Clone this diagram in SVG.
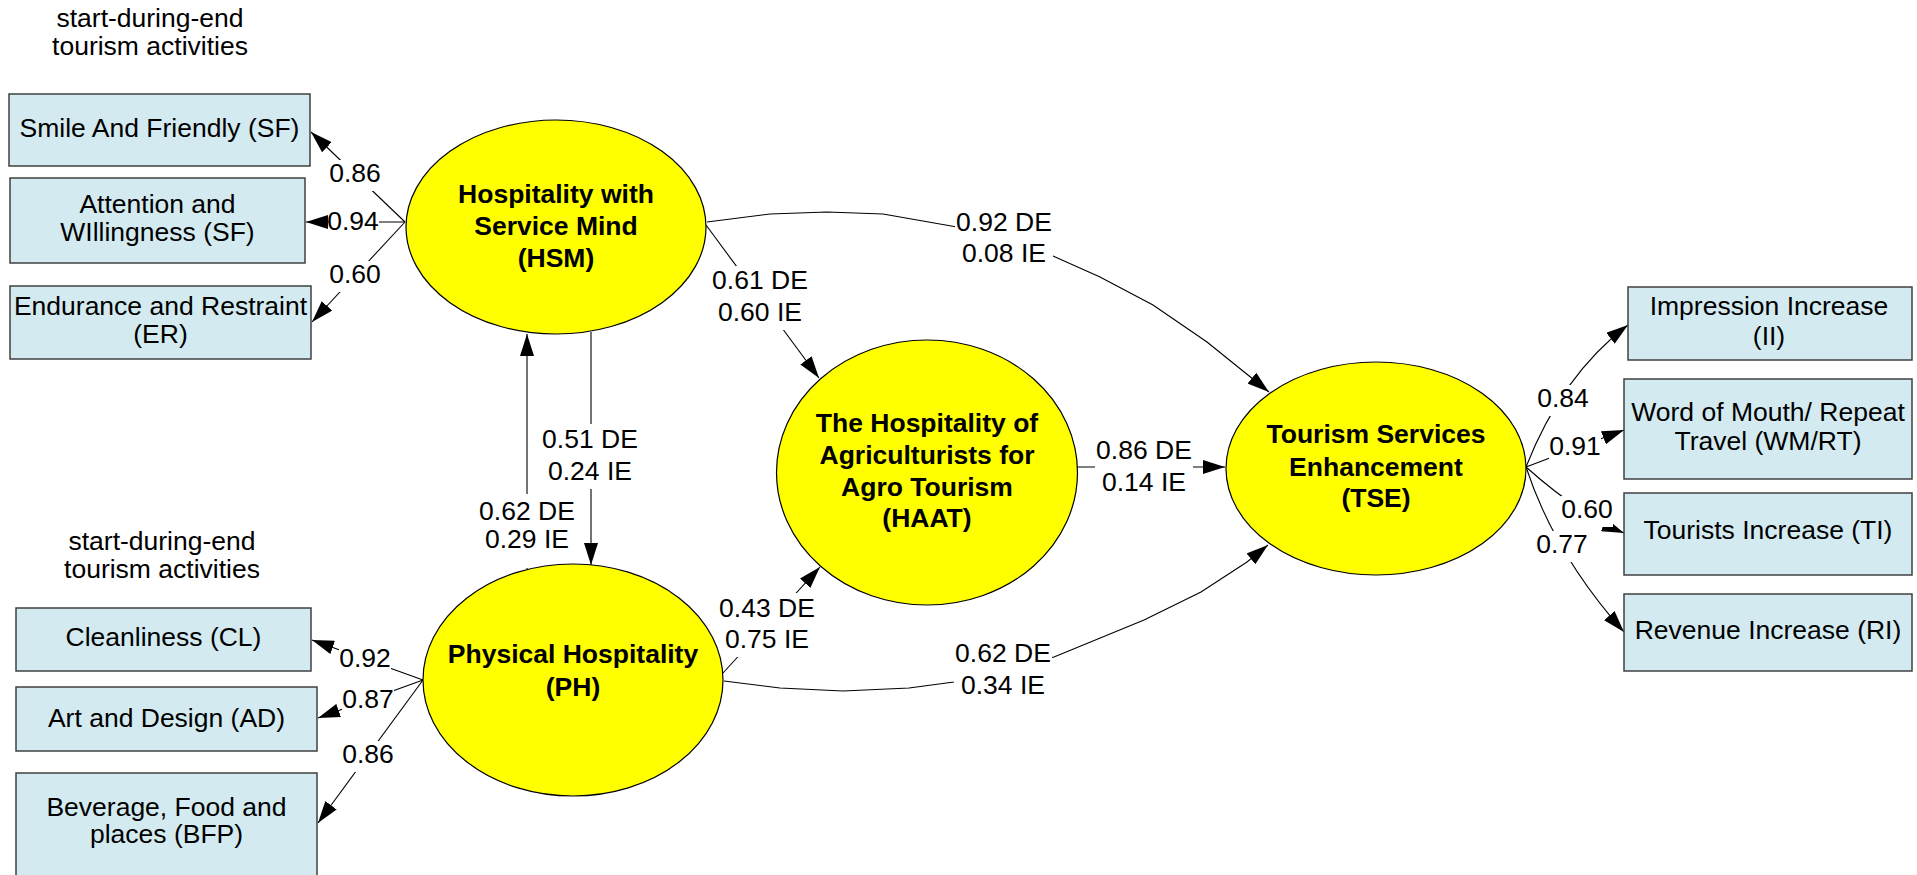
<svg xmlns="http://www.w3.org/2000/svg" width="1917" height="875" viewBox="0 0 1917 875">
<style>
text{font-family:"Liberation Sans",Arial,sans-serif;font-size:26.5px;fill:#000;text-anchor:middle}
.b{font-weight:bold}
.box{fill:#d3ebf0;stroke:#404040;stroke-width:1.5}
.lat{fill:#ffff00;stroke:#000;stroke-width:1.2}
.c{fill:none;stroke:#000;stroke-width:1.1;marker-end:url(#ah)}
.bg{fill:#fff}
</style>
<defs>
<marker id="ah" markerUnits="userSpaceOnUse" viewBox="0 0 22 14" refX="22" refY="7" markerWidth="22" markerHeight="14" orient="auto">
<path d="M0,0 L22,7 L0,14 z" fill="#000"/>
</marker>
</defs>
<rect width="1917" height="875" fill="#fff"/>

<g id="titles">
<text x="150" y="27">start-during-end</text>
<text x="150" y="55">tourism activities</text>
<text x="162" y="550">start-during-end</text>
<text x="162" y="578">tourism activities</text>
</g>

<g id="connectors">
<path class="c" d="M405,222 L311,132"/>
<path class="c" d="M405,222 L306,222"/>
<path class="c" d="M405,222 L312,322"/>
<path class="c" d="M423,680 L312,640"/>
<path class="c" d="M423,680 L318,718"/>
<path class="c" d="M423,680 L318,823"/>
<path class="c" d="M1526,467 Q1562,375 1628,325"/>
<path class="c" d="M1526,467 L1624,430"/>
<path class="c" d="M1526,467 Q1580,515 1624,533"/>
<path class="c" d="M1526,467 Q1555,555 1624,632"/>
<path class="c" d="M527,569 L527,334"/>
<path class="c" d="M591,332 L591,565"/>
<path class="c" d="M706,225 L819,378"/>
<path class="c" d="M723,673 L820,567"/>
<path class="c" d="M1077,467 L1225,467"/>
<path class="c" d="M707,222 L770,214 L827,212 L883,214 L957,227 L1053,256 L1100,277 L1153,305 L1207,342 L1269,392"/>
<path class="c" d="M724,681 L780,688 L843,691 L909,688 L954,682 L1054,657 L1144,620 L1201,592 L1247,562 L1268,545"/>

<g id="labels">
<rect class="bg" x="329" y="160" width="52" height="31"/><text x="355" y="182">0.86</text>
<rect class="bg" x="329" y="208" width="50" height="31"/><text x="353" y="230">0.94</text>
<rect class="bg" x="329" y="261" width="52" height="31"/><text x="355" y="283">0.60</text>
<rect class="bg" x="339" y="645" width="52" height="31"/><text x="365" y="667">0.92</text>
<rect class="bg" x="342" y="686" width="52" height="31"/><text x="368" y="708">0.87</text>
<rect class="bg" x="342" y="741" width="52" height="31"/><text x="368" y="763">0.86</text>
<rect class="bg" x="1537" y="385" width="52" height="31"/><text x="1563" y="407">0.84</text>
<rect class="bg" x="1549" y="433" width="52" height="31"/><text x="1575" y="455">0.91</text>
<rect class="bg" x="1561" y="496" width="52" height="31"/><text x="1587" y="518">0.60</text>
<rect class="bg" x="1536" y="531" width="52" height="31"/><text x="1562" y="553">0.77</text>
<rect class="bg" x="711" y="266" width="98" height="64"/><text x="760" y="289">0.61 DE</text><text x="760" y="321">0.60 IE</text>
<rect class="bg" x="955" y="208" width="98" height="63"/><text x="1004" y="231">0.92 DE</text><text x="1004" y="262">0.08 IE</text>
<rect class="bg" x="541" y="424" width="98" height="65"/><text x="590" y="448">0.51 DE</text><text x="590" y="480">0.24 IE</text>
<rect class="bg" x="478" y="494" width="98" height="74"/><text x="527" y="520">0.62 DE</text><text x="527" y="548">0.29 IE</text>
<rect class="bg" x="720" y="593" width="96" height="64"/><text x="767" y="617">0.43 DE</text><text x="767" y="648">0.75 IE</text>
<rect class="bg" x="1095" y="435" width="98" height="64"/><text x="1144" y="459">0.86 DE</text><text x="1144" y="491">0.14 IE</text>
<rect class="bg" x="954" y="639" width="98" height="64"/><text x="1003" y="662">0.62 DE</text><text x="1003" y="694">0.34 IE</text>
</g>
</g>

<g id="SF"><rect class="box" x="9" y="94" width="301" height="72"/><text x="159.5" y="137">Smile And Friendly (SF)</text></g>
<g id="AW"><rect class="box" x="10" y="178" width="295" height="85"/><text x="157.5" y="213">Attention and</text><text x="157.5" y="241">WIllingness (SF)</text></g>
<g id="ER"><rect class="box" x="10" y="286" width="301" height="73"/><text x="160.5" y="315">Endurance and Restraint</text><text x="160.5" y="343">(ER)</text></g>
<g id="CL"><rect class="box" x="16" y="608" width="295" height="63"/><text x="163.5" y="646">Cleanliness (CL)</text></g>
<g id="AD"><rect class="box" x="16" y="687" width="301" height="64"/><text x="166.5" y="727">Art and Design (AD)</text></g>
<g id="BFP"><rect class="box" x="16" y="773" width="301" height="110"/><text x="166.5" y="816">Beverage, Food and</text><text x="166.5" y="843">places (BFP)</text></g>
<g id="II"><rect class="box" x="1628" y="287" width="284" height="73"/><text x="1769" y="315">Impression Increase</text><text x="1769" y="345">(II)</text></g>
<g id="WMRT"><rect class="box" x="1624" y="379" width="288" height="100"/><text x="1768" y="421">Word of Mouth/ Repeat</text><text x="1768" y="450">Travel (WM/RT)</text></g>
<g id="TI"><rect class="box" x="1624" y="493" width="288" height="82"/><text x="1768" y="539">Tourists Increase (TI)</text></g>
<g id="RI"><rect class="box" x="1624" y="594" width="288" height="77"/><text x="1768" y="639">Revenue Increase (RI)</text></g>

<g id="HSM"><ellipse class="lat" cx="556" cy="227" rx="150" ry="107"/><text class="b" x="556" y="203">Hospitality with</text><text class="b" x="556" y="235">Service Mind</text><text class="b" x="556" y="267">(HSM)</text></g>
<g id="PH"><ellipse class="lat" cx="573" cy="680" rx="150" ry="116"/><text class="b" x="573" y="663">Physical Hospitality</text><text class="b" x="573" y="696">(PH)</text></g>
<g id="HAAT"><ellipse class="lat" cx="927" cy="472.5" rx="150.5" ry="132.5"/><text class="b" x="927" y="432">The Hospitality of</text><text class="b" x="927" y="464">Agriculturists for</text><text class="b" x="927" y="496">Agro Tourism</text><text class="b" x="927" y="527">(HAAT)</text></g>
<g id="TSE"><ellipse class="lat" cx="1376" cy="468.5" rx="150" ry="106.5"/><text class="b" x="1376" y="443">Tourism Services</text><text class="b" x="1376" y="476">Enhancement</text><text class="b" x="1376" y="507">(TSE)</text></g>
</svg>
